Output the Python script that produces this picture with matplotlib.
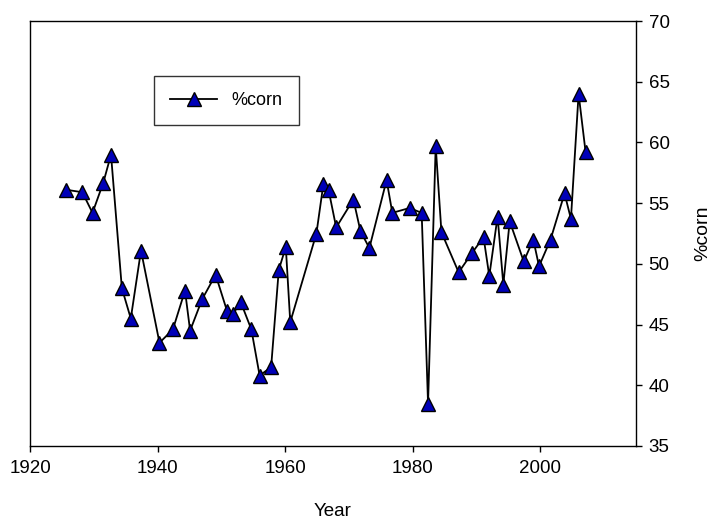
import matplotlib
matplotlib.use("Agg")
import matplotlib.pyplot as plt

plt.rcParams['font.family'] = ['Liberation Sans', 'DejaVu Sans']

# values
years = [1925.7, 1928.2, 1929.8, 1931.5, 1932.7, 1934.4, 1935.8, 1937.4, 1940.3, 1942.4,
         1944.3, 1945.1, 1947.0, 1949.1, 1950.9, 1951.9, 1953.0, 1954.7, 1956.0, 1957.8,
         1959.0, 1960.1, 1960.8, 1964.9, 1966.0, 1966.8, 1968.0, 1970.7, 1971.8, 1973.2,
         1975.9, 1976.8, 1979.5, 1981.4, 1982.4, 1983.6, 1984.5, 1987.2, 1989.3, 1991.1,
         1992.0, 1993.3, 1994.2, 1995.2, 1997.4, 1998.9, 1999.8, 2001.6, 2003.8, 2004.8,
         2006.0, 2007.1]
corn = [56.1, 55.9, 54.2, 56.7, 59.0, 48.0, 45.5, 51.1, 43.5, 44.6,
        47.8, 44.5, 47.1, 49.1, 46.1, 45.9, 46.9, 44.6, 40.8, 41.5,
        49.5, 51.4, 45.2, 52.5, 56.6, 56.1, 53.0, 55.3, 52.7, 51.3,
        56.9, 54.2, 54.6, 54.2, 38.5, 59.7, 52.6, 49.3, 50.9, 52.2,
        49.0, 53.9, 48.3, 53.5, 50.2, 52.0, 49.8, 52.0, 55.8, 53.7,
        64.0, 59.2]

fig = plt.figure(figsize=(7.2, 5.21), dpi=100)
ax = fig.add_axes([30 / 720, 1 - 446 / 521, 606 / 720, 425 / 521])

ax.plot(years, corn, color='black', linewidth=1.3, marker='^', markersize=10,
        markerfacecolor='#0000b8', markeredgecolor='black', markeredgewidth=1.0,
        label='%corn')

ax.set_xlim(1920, 2015)
ax.set_ylim(35, 70)
ax.set_xticks([1920, 1940, 1960, 1980, 2000])
ax.set_yticks(range(35, 71, 5))

ax.yaxis.tick_right()
ax.yaxis.set_label_position('right')
ax.tick_params(axis='both', direction='out', length=4, width=1, labelsize=13.5, pad=5)
ax.tick_params(axis='x', pad=6)

for s in ax.spines.values():
    s.set_linewidth(1.0)

ax.set_xlabel('Year', fontsize=13.5, labelpad=19)
ax.set_ylabel('%corn', fontsize=14, labelpad=18)

leg = ax.legend(loc='upper left', bbox_to_anchor=(0.205, 0.871), borderaxespad=0,
                fontsize=13, fancybox=False, framealpha=1, edgecolor='#333333',
                handlelength=2.6, borderpad=0.9, handletextpad=0.8)
leg.get_frame().set_linewidth(1.0)

fig.savefig('out.png', dpi=100)
